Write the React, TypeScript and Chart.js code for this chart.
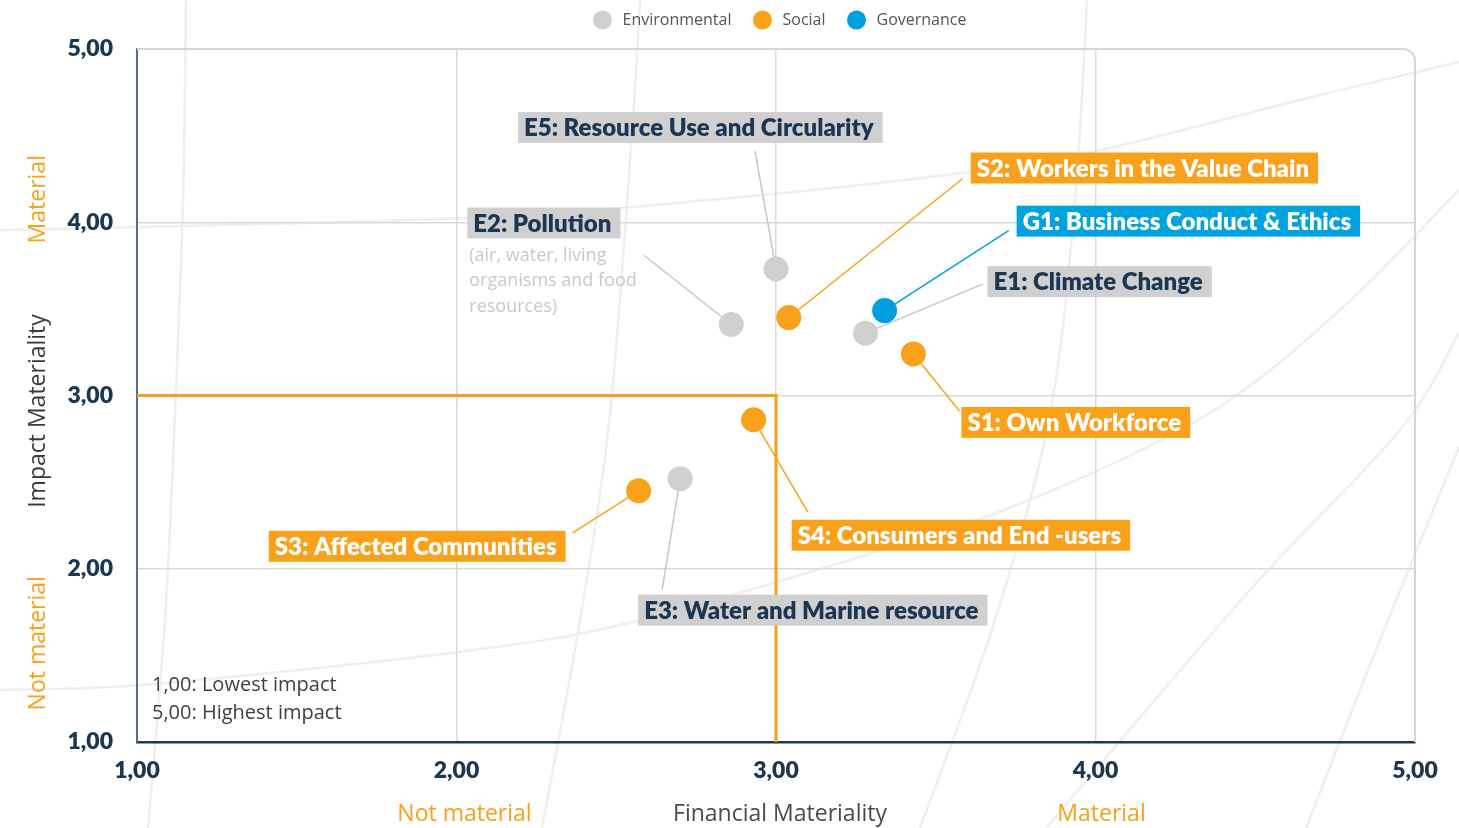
import React, { useEffect, useRef } from 'react';
import { Chart, registerables } from 'chart.js';

Chart.register(...registerables);

// ---------- data ----------
const SERIES_NAMES = ['Environmental', 'Social', 'Governance'];

const ENV_LABELS = ['E1: Climate Change', 'E2: Pollution', 'E3: Water and Marine resource', 'E5: Resource Use and Circularity'];
const ENV_X = [3.28, 2.86, 2.70, 3.00];
const ENV_Y = [3.36, 3.41, 2.52, 3.73];

const SOC_LABELS = ['S1: Own Workforce', 'S2: Workers in the Value Chain', 'S3: Affected Communities', 'S4: Consumers and End -users'];
const SOC_X = [3.43, 3.04, 2.57, 2.93];
const SOC_Y = [3.24, 3.45, 2.45, 2.86];

const GOV_LABELS = ['G1: Business Conduct & Ethics'];
const GOV_X = [3.34];
const GOV_Y = [3.49];

const E2_NOTE = ['(air, water, living', 'organisms and food', 'resources)'];
const SCALE_NOTE = ['1,00: Lowest impact', '5,00: Highest impact'];

const AXIS_MIN = 1;
const AXIS_MAX = 5;
const THRESHOLD_X = 3;
const THRESHOLD_Y = 3;

const X_TITLE = 'Financial Materiality';
const Y_TITLE = 'Impact Materiality';
const LOW_TEXT = 'Not material';
const HIGH_TEXT = 'Material';

// ---------- styles ----------
const POINT_COLORS = ['#d0d0d0', '#f9a11b', '#00a0e0'];
const BOX_BG = ['#d0d0d0', '#f9a11b', '#00a3e0'];
const BOX_FG = ['#1b3651', '#ffffff', '#ffffff'];
const LEADER_COLORS = ['#c6c6c6', '#f9a11b', '#00a0e0'];
const ORANGE = '#f7a11a';
const NAVY = '#1b3651';
const LABEL_FONT = '800 24px Lato';

// label box placement, pixel offsets from each point
const LABEL_LAYOUT: Record<string, { bx: number; by: number; anchor: 'left' | 'right'; lx: number; ly: number }> = {
  E1: { bx: 122, by: -67, anchor: 'left', lx: 117, ly: -49 },
  E2: { bx: -264, by: -117, anchor: 'left', lx: -87, ly: -69 },
  E3: { bx: -42, by: 116, anchor: 'left', lx: -18, ly: 111 },
  E5: { bx: -258, by: -157, anchor: 'left', lx: -21, ly: -118 },
  S1: { bx: 48, by: 53, anchor: 'left', lx: 46, ly: 57 },
  S2: { bx: 182, by: -165, anchor: 'left', lx: 174, ly: -139 },
  S3: { bx: -73, by: 40, anchor: 'right', lx: -66, ly: 42 },
  S4: { bx: 38, by: 100, anchor: 'left', lx: 54, ly: 92 },
  G1: { bx: 132, by: -105, anchor: 'left', lx: 124, ly: -80 },
};

// faint decorative background arcs (canvas pixels)
const DECOR_CURVES: number[][][] = [
  [[186, 0], [183, 200], [175, 414], [165, 620], [148, 828]],
  [[640, 0], [632, 133], [610, 414], [580, 620], [542, 828]],
  [[0, 230], [466, 218], [730, 198], [962, 173], [1101, 150], [1300, 100], [1459, 62]],
  [[0, 690], [154, 684], [466, 651], [637, 621], [869, 554], [1027, 501], [1208, 414], [1340, 310], [1459, 190]],
  [[1087, 0], [1075, 200], [1050, 414], [995, 620], [920, 828]],
  [[1046, 828], [1250, 590], [1400, 430], [1459, 333]],
  [[1306, 828], [1380, 640], [1459, 447]],
];

const fmt = (v: number) => v.toFixed(2).replace('.', ',');

function drawSmooth(ctx: CanvasRenderingContext2D, pts: number[][]) {
  ctx.beginPath();
  ctx.moveTo(pts[0][0], pts[0][1]);
  for (let i = 0; i < pts.length - 1; i++) {
    const p0 = pts[i - 1] || pts[i];
    const p1 = pts[i];
    const p2 = pts[i + 1];
    const p3 = pts[i + 2] || p2;
    ctx.bezierCurveTo(
      p1[0] + (p2[0] - p0[0]) / 6, p1[1] + (p2[1] - p0[1]) / 6,
      p2[0] - (p3[0] - p1[0]) / 6, p2[1] - (p3[1] - p1[1]) / 6,
      p2[0], p2[1]
    );
  }
  ctx.stroke();
}

const overlayPlugin = {
  id: 'overlay',
  beforeDraw(chart: any) {
    const ctx: CanvasRenderingContext2D = chart.ctx;
    ctx.save();
    ctx.strokeStyle = '#efefef';
    ctx.lineWidth = 2.5;
    DECOR_CURVES.forEach((c) => drawSmooth(ctx, c));
    ctx.restore();
  },
  beforeDatasetsDraw(chart: any) {
    const ctx: CanvasRenderingContext2D = chart.ctx;
    const { left, right, top, bottom } = chart.chartArea;
    const xs = chart.scales.x;
    const ys = chart.scales.y;
    ctx.save();

    // frame (top + right with rounded corner)
    const r = 12;
    ctx.strokeStyle = '#d6d6d6';
    ctx.lineWidth = 2;
    ctx.beginPath();
    ctx.moveTo(left, top);
    ctx.lineTo(right - r, top);
    ctx.arcTo(right, top, right, top + r, r);
    ctx.lineTo(right, bottom);
    ctx.stroke();

    // threshold lines
    ctx.strokeStyle = ORANGE;
    ctx.lineWidth = 3;
    ctx.beginPath();
    ctx.moveTo(xs.getPixelForValue(AXIS_MIN), ys.getPixelForValue(THRESHOLD_Y));
    ctx.lineTo(xs.getPixelForValue(THRESHOLD_X), ys.getPixelForValue(THRESHOLD_Y));
    ctx.lineTo(xs.getPixelForValue(THRESHOLD_X), ys.getPixelForValue(AXIS_MIN));
    ctx.stroke();

    // leader lines
    ctx.lineWidth = 1.5;
    chart.data.datasets.forEach((ds: any, di: number) => {
      const meta = chart.getDatasetMeta(di);
      ds.data.forEach((d: any, i: number) => {
        const el = meta.data[i];
        const code = d.name.split(':')[0];
        const L = LABEL_LAYOUT[code];
        if (!L) return;
        ctx.strokeStyle = LEADER_COLORS[di];
        ctx.beginPath();
        ctx.moveTo(el.x, el.y);
        ctx.lineTo(el.x + L.lx, el.y + L.ly);
        ctx.stroke();
      });
    });

    // axis titles
    ctx.font = '400 23px "Open Sans"';
    ctx.textAlign = 'center';
    ctx.textBaseline = 'middle';
    ctx.fillStyle = '#4a4a4a';
    ctx.fillText(X_TITLE, 780, 814);
    ctx.fillStyle = ORANGE;
    ctx.fillText(LOW_TEXT, xs.getPixelForValue(2) + 8, 814);
    ctx.fillText(HIGH_TEXT, xs.getPixelForValue(4) + 6, 814);

    const ty = (y: number) => ys.getPixelForValue(y);
    const drawV = (text: string, cy: number, color: string) => {
      ctx.save();
      ctx.translate(38, cy);
      ctx.rotate(-Math.PI / 2);
      ctx.fillStyle = color;
      ctx.fillText(text, 0, 0);
      ctx.restore();
    };
    drawV(Y_TITLE, 411, '#3a3a3a');
    drawV(HIGH_TEXT, ty(4) - 23, ORANGE);
    drawV(LOW_TEXT, ty(1.57), ORANGE);

    // scale note
    ctx.font = '400 20px "Open Sans"';
    ctx.textAlign = 'left';
    ctx.fillStyle = '#404040';
    ctx.fillText(SCALE_NOTE[0], left + 15, 685);
    ctx.fillText(SCALE_NOTE[1], left + 15, 713);

    // legend
    ctx.font = '400 16px "Open Sans"';
    const widths = SERIES_NAMES.map((n) => ctx.measureText(n).width);
    const itemW = widths.map((w) => 20 + 11 + w);
    const total = itemW.reduce((a, b) => a + b, 0) + 20 * (SERIES_NAMES.length - 1);
    let x = (left + right) / 2 + 4 - total / 2;
    SERIES_NAMES.forEach((n, i) => {
      ctx.fillStyle = POINT_COLORS[i];
      ctx.beginPath();
      ctx.arc(x + 10, 20, 9.5, 0, Math.PI * 2);
      ctx.fill();
      ctx.fillStyle = '#555555';
      ctx.fillText(n, x + 30, 20);
      x += itemW[i] + 20;
    });
    ctx.restore();
  },
  afterDatasetsDraw(chart: any) {
    const ctx: CanvasRenderingContext2D = chart.ctx;
    ctx.save();
    ctx.textBaseline = 'middle';
    ctx.textAlign = 'left';
    chart.data.datasets.forEach((ds: any, di: number) => {
      const meta = chart.getDatasetMeta(di);
      ds.data.forEach((d: any, i: number) => {
        const el = meta.data[i];
        const code = d.name.split(':')[0];
        const L = LABEL_LAYOUT[code];
        if (!L) return;
        ctx.font = LABEL_FONT;
        const tw = ctx.measureText(d.name).width;
        const w = tw + 15;
        const h = 31;
        const bl = L.anchor === 'right' ? el.x + L.bx - w : el.x + L.bx;
        const bt = el.y + L.by;
        ctx.fillStyle = BOX_BG[di];
        ctx.fillRect(bl, bt, w, h);
        ctx.fillStyle = BOX_FG[di];
        ctx.fillText(d.name, bl + 6, bt + h / 2 + 1);
        if (code === 'E2') {
          ctx.font = '400 18px "Open Sans"';
          ctx.fillStyle = '#c8c8c8';
          E2_NOTE.forEach((t, k) => ctx.fillText(t, bl + 2, bt + 48 + k * 25.5));
        }
      });
    });
    ctx.restore();
  },
};

export default function App() {
  const canvasRef = useRef<HTMLCanvasElement | null>(null);

  useEffect(() => {
    if (!canvasRef.current) return;
    const mk = (xs: number[], ys: number[], names: string[]) =>
      xs.map((x, i) => ({ x, y: ys[i], name: names[i] }));
    const chart = new Chart(canvasRef.current, {
      type: 'scatter',
      data: {
        datasets: [
          { label: SERIES_NAMES[0], data: mk(ENV_X, ENV_Y, ENV_LABELS), backgroundColor: POINT_COLORS[0] },
          { label: SERIES_NAMES[1], data: mk(SOC_X, SOC_Y, SOC_LABELS), backgroundColor: POINT_COLORS[1] },
          { label: SERIES_NAMES[2], data: mk(GOV_X, GOV_Y, GOV_LABELS), backgroundColor: POINT_COLORS[2] },
        ],
      },
      options: {
        animation: false,
        responsive: false,
        events: [],
        layout: { padding: { top: 49, right: 44, left: 0, bottom: 0 } },
        elements: { point: { radius: 12.5, borderWidth: 0, hoverRadius: 12.5 } },
        plugins: { legend: { display: false }, tooltip: { enabled: false } },
        scales: {
          x: {
            type: 'linear',
            min: AXIS_MIN,
            max: AXIS_MAX,
            afterFit: (s: any) => { s.height = 86; },
            ticks: {
              stepSize: 1,
              padding: 15,
              color: NAVY,
              font: { family: 'Lato', weight: '800', size: 23 },
              callback: (v: any) => fmt(Number(v)),
            },
            grid: {
              drawTicks: false,
              lineWidth: 1.5,
              color: (c: any) => (c.tick && (c.tick.value === AXIS_MIN || c.tick.value === AXIS_MAX) ? 'rgba(0,0,0,0)' : '#d9d9d9'),
            },
            border: { display: true, color: '#1f3a57', width: 2.5 },
          },
          y: {
            type: 'linear',
            min: AXIS_MIN,
            max: AXIS_MAX,
            afterFit: (s: any) => { s.width = 137; },
            ticks: {
              stepSize: 1,
              padding: 24,
              color: NAVY,
              font: { family: 'Lato', weight: '800', size: 23 },
              callback: (v: any) => fmt(Number(v)),
            },
            grid: {
              drawTicks: false,
              lineWidth: 1.5,
              color: (c: any) => (c.tick && (c.tick.value === AXIS_MIN || c.tick.value === AXIS_MAX) ? 'rgba(0,0,0,0)' : '#d9d9d9'),
            },
            border: { display: true, color: '#5d7083', width: 2 },
          },
        },
      },
      plugins: [overlayPlugin],
    } as any);
    return () => chart.destroy();
  }, []);

  return (
    <div style={{ position: 'fixed', left: 0, top: 0, width: 1459, height: 828, background: '#ffffff' }}>
      <canvas ref={canvasRef} width={1459} height={828} style={{ display: 'block' }} />
    </div>
  );
}
